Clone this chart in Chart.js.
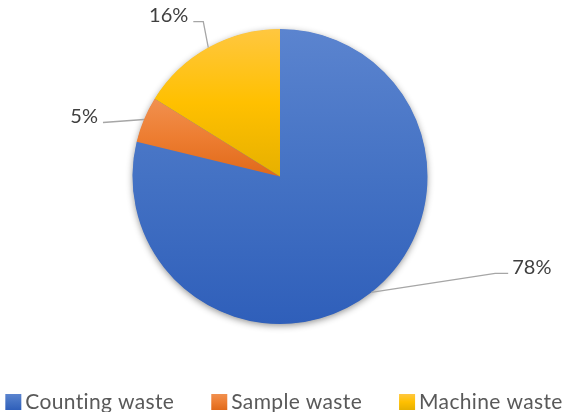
<!DOCTYPE html>
<html>
<head>
<meta charset="utf-8">
<title>Waste breakdown</title>
<script src="https://cdn.jsdelivr.net/npm/chart.js@4"></script>
<style>
  html, body { margin: 0; padding: 0; background: #ffffff; }
  #wrap { width: 564px; height: 412px; }
</style>
</head>
<body>
<div id="wrap"><canvas id="wasteChart" width="564" height="412"></canvas></div>
<script>
// waste categories and their share in percent
var labels = ['Counting waste', 'Sample waste', 'Machine waste'];
var shares = [78, 5, 16];

// light / base / dark stops for each slice gradient
var lightColors = ['#5b84cf', '#f1904f', '#ffc740'];
var baseColors = ['#4472c4', '#ed7d31', '#ffc000'];
var darkColors = ['#2f5fba', '#e0691a', '#e6b000'];

var PIE_RADIUS = 147.5;
var FONT = "Lato, 'Liberation Sans', sans-serif";

// vertical gradient over the bounding box of one slice
function sliceGradient(ctx2d, cx, cy, r, index) {
    var total = shares.reduce(function (a, b) { return a + b; }, 0);
    var start = -Math.PI / 2;
    for (var k = 0; k < index; k++) start += shares[k] / total * Math.PI * 2;
    var end = start + shares[index] / total * Math.PI * 2;
    var minY = cy, maxY = cy;
    for (var s = 0; s <= 60; s++) {
        var a = start + (end - start) * s / 60;
        var y = cy + r * Math.sin(a);
        if (y < minY) minY = y;
        if (y > maxY) maxY = y;
    }
    var g = ctx2d.createLinearGradient(0, minY, 0, maxY);
    g.addColorStop(0, lightColors[index]);
    g.addColorStop(0.5, baseColors[index]);
    g.addColorStop(1, darkColors[index]);
    return g;
}

function sliceFill(context) {
    var chart = context.chart;
    var area = chart.chartArea;
    var i = context.dataIndex;
    if (!area || i === undefined) return baseColors[i || 0];
    var cx = (area.left + area.right) / 2;
    var cy = (area.top + area.bottom) / 2;
    return sliceGradient(chart.ctx, cx, cy, PIE_RADIUS, i);
}

// soft drop shadow under the whole pie
var pieShadow = {
    id: 'pieShadow',
    beforeDatasetsDraw: function (chart) {
        var arc = chart.getDatasetMeta(0).data[0];
        if (!arc) return;
        var c = chart.ctx;
        c.save();
        c.shadowColor = 'rgba(0, 0, 0, 0.45)';
        c.shadowBlur = 7;
        c.shadowOffsetY = 2;
        c.fillStyle = '#4472c4';
        c.beginPath();
        c.arc(arc.x, arc.y, arc.outerRadius - 0.5, 0, Math.PI * 2);
        c.fill();
        c.restore();
    }
};

// percentage labels with leader lines
var calloutLabels = {
    id: 'calloutLabels',
    afterDatasetsDraw: function (chart, args, opts) {
        var c = chart.ctx;
        var meta = chart.getDatasetMeta(0);
        meta.data.forEach(function (arc, i) {
            var spot = opts.spots[i];
            var mid = (arc.startAngle + arc.endAngle) / 2;
            var ex = arc.x + arc.outerRadius * Math.cos(mid);
            var ey = arc.y + arc.outerRadius * Math.sin(mid);
            var bx = ex + spot.dx;
            var by = ey + spot.dy;
            var tx = bx + spot.tail;
            c.save();
            c.strokeStyle = '#a6a6a6';
            c.lineWidth = 1.3;
            c.beginPath();
            c.moveTo(ex, ey);
            c.lineTo(bx, by);
            c.lineTo(tx, by);
            c.stroke();
            c.fillStyle = '#404040';
            c.font = opts.fontSize + 'px ' + FONT;
            c.textBaseline = 'alphabetic';
            var right = spot.side < 0;
            c.textAlign = right ? 'right' : 'left';
            c.fillText(chart.data.datasets[0].data[i] + '%', tx + (right ? -5 : 4), by + 0.5);
            c.restore();
        });
    }
};

// legend row along the bottom edge
var bottomLegend = {
    id: 'bottomLegend',
    afterDraw: function (chart, args, opts) {
        var c = chart.ctx;
        c.save();
        c.font = opts.fontSize + 'px ' + FONT;
        // a little tracking keeps "ti" from joining into a ligature
        c.letterSpacing = opts.tracking + 'px';
        var widths = labels.map(function (t) { return c.measureText(t).width; });
        var total = 0;
        widths.forEach(function (w, i) {
            total += opts.box + opts.gap + w + (i > 0 ? opts.spacing : 0);
        });
        var x = opts.centerX - total / 2;
        var top = opts.y;
        labels.forEach(function (t, i) {
            var g = c.createLinearGradient(0, top, 0, top + opts.box);
            g.addColorStop(0, lightColors[i]);
            g.addColorStop(0.5, baseColors[i]);
            g.addColorStop(1, darkColors[i]);
            c.fillStyle = g;
            c.fillRect(x, top, opts.box, opts.box);
            c.fillStyle = '#595959';
            c.textAlign = 'left';
            c.textBaseline = 'alphabetic';
            c.fillText(t, x + opts.box + opts.gap, top + opts.box - 1);
            x += opts.box + opts.gap + widths[i] + opts.spacing;
        });
        c.restore();
    }
};

var ctx = document.getElementById('wasteChart').getContext('2d');
var wasteChart = new Chart(ctx, {
    type: 'pie',
    data: {
        labels: labels,
        datasets: [{
            data: shares,
            backgroundColor: sliceFill,
            borderWidth: 0,
            hoverOffset: 0
        }]
    },
    options: {
        responsive: false,
        animation: false,
        radius: PIE_RADIUS,
        layout: {
            padding: { top: 20, bottom: 79, left: 20, right: 24 }
        },
        plugins: {
            legend: { display: false },
            tooltip: { enabled: false },
            calloutLabels: {
                fontSize: 20,
                spots: [
                    { dx: 124, dy: -19, tail: 13, side: 1 },
                    { dx: -41, dy: 3, tail: 0, side: -1 },
                    { dx: -5, dy: -26, tail: -10, side: -1 }
                ]
            },
            bottomLegend: {
                fontSize: 21,
                tracking: 0.35,
                box: 16,
                gap: 4,
                spacing: 37,
                centerX: 284,
                y: 394
            }
        }
    },
    plugins: [pieShadow, calloutLabels, bottomLegend]
});
</script>
</body>
</html>
